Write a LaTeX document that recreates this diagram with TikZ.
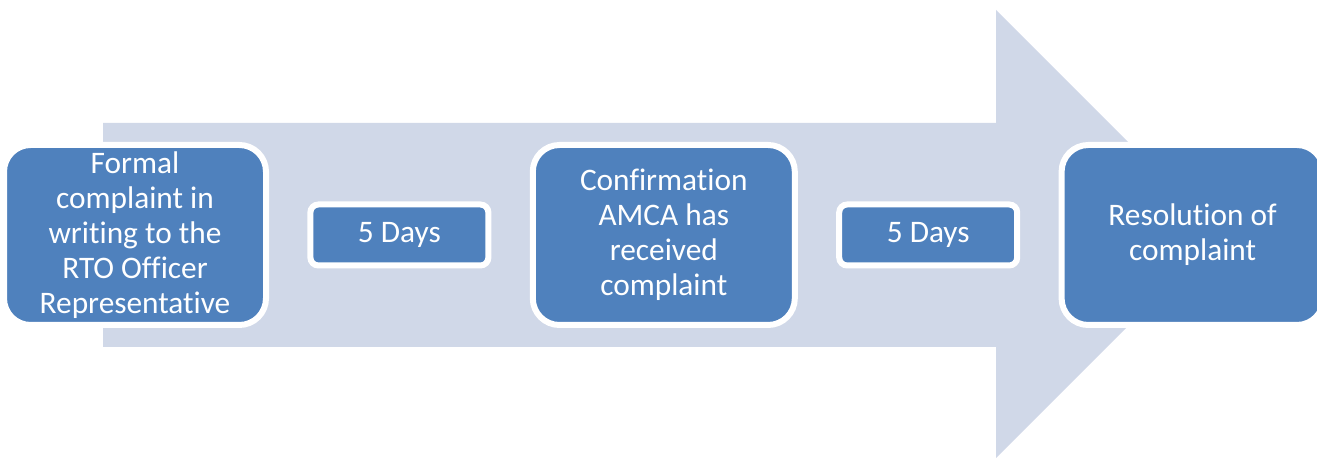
\documentclass[tikz,border=0pt]{standalone}
\usepackage{fontspec}
\setmainfont{Carlito}[Ligatures=NoCommon]
\usetikzlibrary{positioning}

\definecolor{stepblue}{HTML}{4F81BD}
\definecolor{arrowgrey}{HTML}{D0D8E8}

\begin{document}
\begin{tikzpicture}[x=0.75pt,y=0.75pt,
    stage/.style={draw=white, line width=4.5pt, fill=stepblue, rounded corners=20pt,
        minimum width=196.5pt, minimum height=135pt, inner sep=0pt,
        text=white, align=center, font=\fontsize{23.5}{26.3}\selectfont},
    delay/.style={stage, rounded corners=6pt, minimum width=133.5pt, minimum height=45.75pt},
    node distance=28.8pt]
\useasboundingbox (0,0) rectangle (1317,459);

% big background arrow
\fill[arrowgrey] (103,112) -- (996,112) -- (996,1) -- (1220,225)
    -- (996,449) -- (996,336) -- (103,336) -- cycle;

% steps along the arrow
\node[stage] (complaint) at (135,224) {Formal\\complaint in\\writing to the\\RTO Officer\\Representative};
\node[delay, right=of complaint] (waitA) {5 Days};
\node[stage, right=of waitA] (confirm) {Confirmation\\AMCA has\\received\\complaint};
\node[delay, right=of confirm] (waitB) {5 Days};
\node[stage, right=of waitB] (resolve) {Resolution of\\complaint};
\end{tikzpicture}
\end{document}
